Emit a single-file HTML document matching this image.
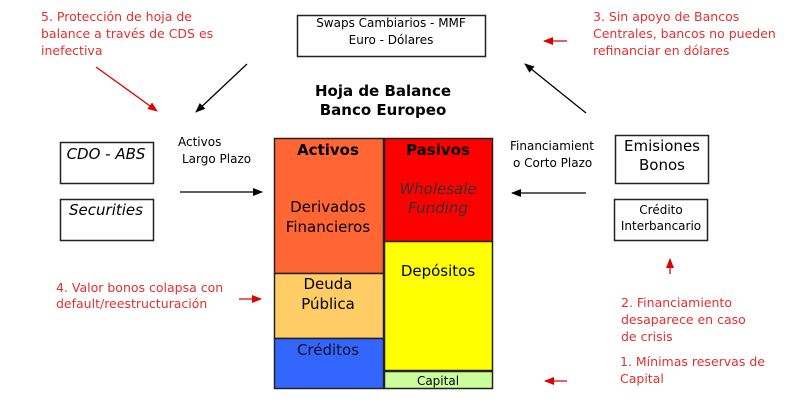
<!DOCTYPE html>
<html><head><meta charset="utf-8"><style>
body{margin:0;background:#fff}
svg{display:block;font-family:"DejaVu Sans","Liberation Sans",sans-serif}
</style></head><body>
<svg width="800" height="416" viewBox="0 0 800 416" xmlns="http://www.w3.org/2000/svg">
<defs>
<marker id="ab" markerWidth="10" markerHeight="8" refX="9" refY="4" orient="auto" markerUnits="userSpaceOnUse"><path d="M0,0 L10,4 L0,8 z" fill="#000"/></marker>
<marker id="ar" markerWidth="10" markerHeight="8" refX="9" refY="4" orient="auto" markerUnits="userSpaceOnUse"><path d="M0,0 L10,4 L0,8 z" fill="#d00"/></marker>
</defs>
<g stroke="#222" stroke-width="1.5">
<rect x="274.5" y="138.5" width="109" height="135" fill="#FF6633"/>
<rect x="274.5" y="273.5" width="109" height="65" fill="#FFCC66"/>
<rect x="274.5" y="338.5" width="109" height="50" fill="#3366FF"/>
<rect x="384.5" y="138.5" width="108" height="103" fill="#FF0000"/>
<rect x="384.5" y="241.5" width="108" height="129" fill="#FFFF00"/>
<rect x="384.5" y="371.5" width="108" height="17" fill="#CCFF99"/>
<rect x="297.5" y="15.5" width="188" height="41" fill="none"/>
<rect x="60.5" y="142.5" width="93" height="41" fill="none"/>
<rect x="60.5" y="199.5" width="93" height="41" fill="none"/>
<rect x="615.5" y="135.5" width="93" height="48" fill="none"/>
<rect x="614.5" y="199.5" width="93" height="41" fill="none"/>
</g>
<g font-size="15" text-anchor="middle" fill="#000">
<text x="328" y="155" font-weight="bold">Activos</text>
<text x="438" y="155" font-weight="bold">Pasivos</text>
<text x="328" y="212">Derivados</text>
<text x="328" y="232">Financieros</text>
<text x="438" y="194" font-style="italic" fill="#333">Wholesale</text>
<text x="438" y="213" font-style="italic" fill="#333">Funding</text>
<text x="438" y="276">Depósitos</text>
<text x="328" y="289">Deuda</text>
<text x="328" y="309">Pública</text>
<text x="328" y="355" fill="#112">Créditos</text>
<text x="438" y="385" font-size="12">Capital</text>
<text x="391" y="27" font-size="12">Swaps Cambiarios - MMF</text>
<text x="391" y="44" font-size="12">Euro - Dólares</text>
<text x="383" y="96" font-weight="bold">Hoja de Balance</text>
<text x="383" y="115" font-weight="bold">Banco Europeo</text>
<text x="106" y="159" font-style="italic">CDO - ABS</text>
<text x="106" y="215" font-style="italic">Securities</text>
<text x="662" y="151">Emisiones</text>
<text x="662" y="170">Bonos</text>
<text x="661" y="214" font-size="12">Crédito</text>
<text x="661" y="230" font-size="12">Interbancario</text>
</g>
<g font-size="12" fill="#000">
<text x="178" y="146">Activos</text>
<text x="182" y="163">Largo Plazo</text>
<text x="510" y="150">Financiamient</text>
<text x="513" y="167">o Corto Plazo</text>
</g>
<g font-size="12.5" fill="#e03030">
<text x="41" y="21">5. Protección de hoja de</text>
<text x="41" y="38">balance a través de CDS es</text>
<text x="41" y="55">inefectiva</text>
<text x="593" y="21">3. Sin apoyo de Bancos</text>
<text x="593" y="38">Centrales, bancos no pueden</text>
<text x="593" y="55">refinanciar en dólares</text>
<text x="56" y="292">4. Valor bonos colapsa con</text>
<text x="56" y="308">default/reestructuración</text>
<text x="621" y="307">2. Financiamiento</text>
<text x="621" y="324">desaparece en caso</text>
<text x="621" y="341">de crisis</text>
<text x="620" y="366">1. Mínimas reservas de</text>
<text x="620" y="383">Capital</text>
</g>
<g stroke="#000" stroke-width="1.3" fill="none">
<line x1="180" y1="192" x2="262" y2="192" marker-end="url(#ab)"/>
<line x1="586" y1="193" x2="512" y2="193" marker-end="url(#ab)"/>
<line x1="247" y1="64" x2="196" y2="112" marker-end="url(#ab)"/>
<line x1="586" y1="113" x2="525" y2="64" marker-end="url(#ab)"/>
</g>
<g stroke="#d00" stroke-width="1.3" fill="none">
<line x1="96" y1="67" x2="157" y2="111" marker-end="url(#ar)"/>
<line x1="567" y1="41" x2="544" y2="41" marker-end="url(#ar)"/>
<line x1="670" y1="274" x2="670" y2="259" marker-end="url(#ar)"/>
<line x1="239" y1="299" x2="261" y2="299" marker-end="url(#ar)"/>
<line x1="567" y1="381" x2="545" y2="381" marker-end="url(#ar)"/>
</g>
</svg>
</body></html>
